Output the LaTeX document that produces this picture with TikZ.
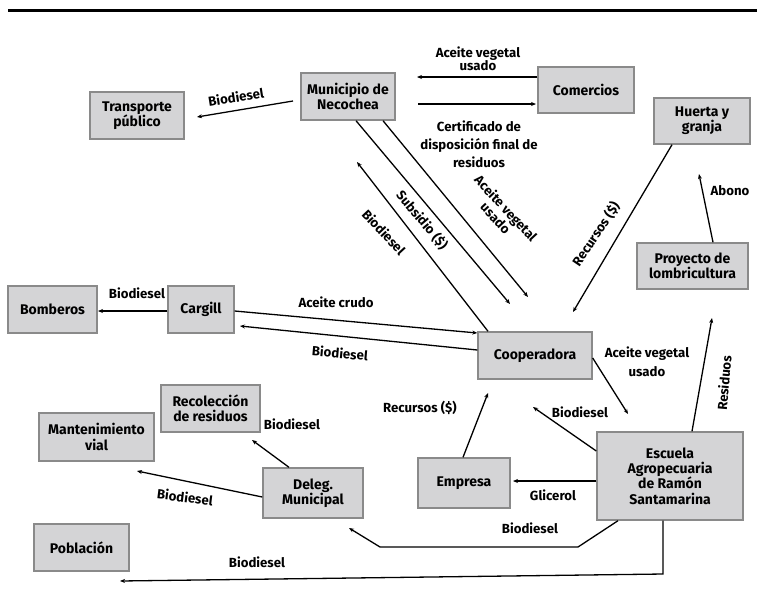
\documentclass[tikz,border=0pt]{standalone}
\usepackage{fontspec}
\setmainfont{Fira Sans}
\usetikzlibrary{arrows.meta}
\definecolor{boxfill}{RGB}{212,212,214}
\definecolor{boxline}{RGB}{138,138,138}
\begin{document}
\begin{tikzpicture}[x=1pt,y=-1pt,
  box/.style={draw=boxline, line width=1.4pt, fill=boxfill, align=center,
    font=\bfseries\fontsize{14}{15.3}\selectfont, inner sep=0pt},
  lbl/.style={align=center, font=\bfseries\fontsize{13.2}{14}\selectfont, inner sep=0pt},
  conn/.style={line width=1.3pt, -{Stealth[length=5pt,width=4pt]}},
  plain/.style={line width=1.3pt}]
\useasboundingbox (0,0) rectangle (757,614);
\draw[line width=3pt] (8,10.5) -- (757,10.5);

% boxes
\node[box, minimum width=94pt, minimum height=47pt] (mun) at (348,96.5) {Municipio de\\Necochea};
\node[box, minimum width=96pt, minimum height=46pt] (com) at (586,90) {Comercios};
\node[box, minimum width=94pt, minimum height=47pt] (tra) at (137,115.5) {Transporte\\público};
\node[box, minimum width=96pt, minimum height=46pt] (hue) at (702,121) {Huerta y\\granja};
\node[box, minimum width=111pt, minimum height=46pt] (pro) at (692.5,266) {Proyecto de\\lombricultura};
\node[box, minimum width=89pt, minimum height=47pt] (bom) at (52.5,309.5) {Bomberos};
\node[box, minimum width=66pt, minimum height=47pt] (car) at (201,309.5) {Cargill};
\node[box, minimum width=114pt, minimum height=47pt] (coo) at (535,355.5) {Cooperadora};
\node[box, minimum width=99pt, minimum height=47pt] (rec) at (210.5,408.5) {Recolección\\de residuos};
\node[box, minimum width=115pt, minimum height=48pt] (man) at (96.5,437) {Mantenimiento\\vial};
\node[box, minimum width=100pt, minimum height=50pt] (del) at (313,493) {Deleg.\\Municipal};
\node[box, minimum width=92pt, minimum height=50pt] (emp) at (464,483) {Empresa};
\node[box, minimum width=146pt, minimum height=88pt] (esc) at (670,476) {Escuela\\Agropecuaria\\de Ramón\\Santamarina};
\node[box, minimum width=95pt, minimum height=47pt] (pob) at (81.5,547.5) {Población};

% free ends
\coordinate (munW) at (293,101);   \coordinate (traE) at (197,117);
\coordinate (munE1) at (417,77);   \coordinate (munE2) at (418,104);
\coordinate (comW2) at (536,104);
\coordinate (munS1) at (356,121);  \coordinate (cooN1) at (510,304);
\coordinate (munS2) at (383,121);  \coordinate (cooN2) at (528,297);
\coordinate (munS3) at (357,162);
\coordinate (cooN3) at (573,312);
\coordinate (hueS) at (699,174);
\coordinate (bomE) at (98,311);
\coordinate (carE) at (240,326);
\coordinate (escN) at (628,414);
\coordinate (proS) at (712,318);
\coordinate (cooS1) at (488,393);
\coordinate (cooS2) at (533,407);
\coordinate (empE) at (513,481);
\coordinate (k1) at (578,547);  \coordinate (k2) at (380,547);  \coordinate (delS) at (349,528);
\coordinate (k3) at (663,574);  \coordinate (pobE) at (120,581);
\coordinate (recS) at (252,440);
\coordinate (manE) at (137,471);

% connectors
\draw[conn] (munW) -- (traE);
\draw[conn] (com.west |- 0,77) -- (munE1);
\draw[conn] (munE2) -- (comW2);
\draw[conn] (mun.south -| munS1) -- (cooN1);
\draw[conn] (mun.south -| munS2) -- (cooN2);
\draw[conn] (coo.north -| 488,0) -- (munS3);
\draw[conn] (hue.south -| 672,0) -- (cooN3);
\draw[conn] (pro.north -| 713,0) -- (hueS);
\draw[conn] (car.west |- 0,311) -- (bomE);
\draw[conn] (car.east |- 0,311) -- (coo.west |- 0,333);
\draw[conn] (coo.west |- 0,350) -- (carE);
\draw[conn] (coo.east |- 0,358) -- (escN);
\draw[conn] (esc.north -| 692,0) -- (proS);
\draw[conn] (emp.north -| 463,0) -- (cooS1);
\draw[conn] (esc.west |- 0,451) -- (cooS2);
\draw[conn] (esc.west |- 0,481) -- (empE);
\draw[conn] (esc.south -| 618,0) -- (k1) -- (k2) -- (delS);
\draw[conn] (esc.south -| 663,0) -- (k3) -- (pobE);
\draw[conn] (del.north -| 289,0) -- (recS);
\draw[conn] (del.west |- 0,497) -- (manE);

% labels
\node[lbl, rotate=9] (l1) at (236,97) {Biodiesel};
\node[lbl, font=\bfseries\fontsize{13.2}{13}\selectfont] (l2) at (478,58.5) {Aceite vegetal\\usado};
\node[lbl, font=\bfseries\fontsize{13.2}{18}\selectfont] (l3) at (479,144) {Certificado de\\disposición final de\\residuos};
\node[lbl, rotate=-50] (l4) at (422,220) {Subsidio (\$)};
\node[lbl, rotate=-47] (l5) at (501,213) {Aceite vegetal\\usado};
\node[lbl, rotate=-47] (l6) at (384,232) {Biodiesel};
\node[lbl, rotate=56] (l7) at (596,234) {Recursos (\$)};
\node[lbl] (l8) at (730,191) {Abono};
\node[lbl] (l9) at (137,293) {Biodiesel};
\node[lbl] (l10) at (336,302) {Aceite crudo};
\node[lbl, rotate=-5] (l11) at (340,353) {Biodiesel};
\node[lbl, font=\bfseries\fontsize{13.2}{19}\selectfont] (l12) at (647,361.5) {Aceite vegetal\\usado};
\node[lbl, rotate=85] (l13) at (724,383) {Residuos};
\node[lbl] (l14) at (420,408) {Recursos (\$)};
\node[lbl] (l15) at (580,412) {Biodiesel};
\node[lbl] (l16) at (553,495) {Glicerol};
\node[lbl] (l17) at (530,528) {Biodiesel};
\node[lbl] (l18) at (257,562) {Biodiesel};
\node[lbl] (l19) at (292,424) {Biodiesel};
\node[lbl, rotate=-7] (l20) at (185,497) {Biodiesel};
\end{tikzpicture}
\end{document}
